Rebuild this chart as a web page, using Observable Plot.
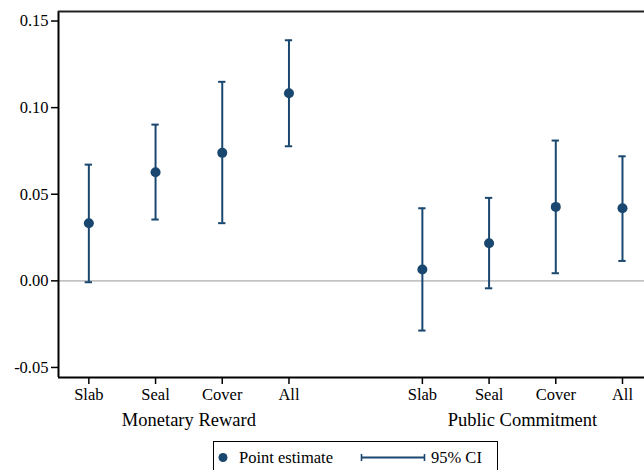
<!DOCTYPE html>
<html>
<head>
<meta charset="utf-8">
<script src="https://cdn.jsdelivr.net/npm/d3@7"></script>
<script src="https://cdn.jsdelivr.net/npm/@observablehq/plot@0.6"></script>
<style>
  html, body { margin: 0; padding: 0; background: #fff; overflow: hidden; }
  #wrap { position: relative; width: 644px; height: 470px; font-family: "Liberation Serif", "Times New Roman", serif; }
  #legend { position: absolute; left: 213px; top: 441px; width: 283px; height: 40px; border: 1px solid #000; background: #fff; }
  #legend svg { position: absolute; left: 0; top: 0; }
  .lt { position: absolute; font-size: 16.5px; color: #000; line-height: 1; white-space: nowrap; }
</style>
</head>
<body>
<div id="wrap">
  <div id="chart"></div>
  <div id="legend">
    <svg width="283" height="40">
      <circle cx="9" cy="15.5" r="4.5" fill="#1a476f"></circle>
      <line x1="147" x2="211" y1="15.5" y2="15.5" stroke="#1a476f" stroke-width="2"></line>
      <line x1="147.5" x2="147.5" y1="12" y2="19" stroke="#1a476f" stroke-width="1.6"></line>
      <line x1="210.5" x2="210.5" y1="12" y2="19" stroke="#1a476f" stroke-width="1.6"></line>
    </svg>
    <div class="lt" style="left:25px; top:8px;">Point estimate</div>
    <div class="lt" style="left:217px; top:8px;">95% CI</div>
  </div>
</div>
<script>
const categories = ["Slab", "Seal", "Cover", "All"];
const groups = ["Monetary Reward", "Public Commitment"];
const estimate = [0.0333, 0.0627, 0.0739, 0.1083, 0.0065, 0.0217, 0.0427, 0.0419];
const ciLow    = [-0.0008, 0.0354, 0.0333, 0.0777, -0.0287, -0.0043, 0.0044, 0.0115];
const ciHigh   = [0.0671, 0.0902, 0.1149, 0.1389, 0.0419, 0.0479, 0.0810, 0.0719];
const yTicks = [-0.05, 0, 0.05, 0.10, 0.15];

const navy = "#1a476f";
const data = estimate.map((v, k) => {
  const g = Math.floor(k / categories.length);
  const i = k % categories.length;
  return {group: groups[g], cat: categories[i], x: g * (categories.length + 1) + i + 1, est: v, lo: ciLow[k], hi: ciHigh[k]};
});
const xTicks = data.map(d => d.x);
const xLabel = new Map(data.map(d => [d.x, d.cat]));
const groupPos = groups.map((g, gi) => d3.mean(data.filter(d => d.group === g), d => d.x));
const groupLabel = new Map(groupPos.map((p, gi) => [p, groups[gi]]));

const xDomain = [0.545, 9.33];
const yDomain = [-0.0558, 0.1555];
const capHalf = 0.055;

const fmt = v => (v < 0 ? "-" : "") + Math.abs(v).toFixed(2);

const chart = Plot.plot({
  width: 644,
  height: 436,
  marginLeft: 58,
  marginRight: 0,
  marginTop: 11,
  marginBottom: 59,
  style: {fontFamily: "'Liberation Serif', 'Times New Roman', serif", fontSize: "16.5px", color: "#000", background: "#fff"},
  x: {domain: xDomain, axis: null, label: null},
  y: {domain: yDomain, axis: null, label: null},
  marks: [
    Plot.ruleY([0], {stroke: "#c4c4c4", strokeWidth: 1.8}),
    Plot.ruleX(data, {x: "x", y1: "lo", y2: "hi", stroke: navy, strokeWidth: 2}),
    Plot.ruleY(data, {y: "lo", x1: d => d.x - capHalf, x2: d => d.x + capHalf, stroke: navy, strokeWidth: 2}),
    Plot.ruleY(data, {y: "hi", x1: d => d.x - capHalf, x2: d => d.x + capHalf, stroke: navy, strokeWidth: 2}),
    Plot.dot(data, {x: "x", y: "est", r: 5, fill: navy, stroke: null}),
    Plot.axisY({ticks: yTicks, tickFormat: fmt, tickSize: 7, tickPadding: 3, strokeWidth: 1.5, fontSize: 16.5, label: null}),
    Plot.axisX({ticks: xTicks, tickFormat: d => xLabel.get(d), tickSize: 7, tickPadding: 4, strokeWidth: 1.5, fontSize: 16.5, label: null}),
    Plot.axisX({ticks: groupPos, tickFormat: d => groupLabel.get(d), tickSize: 0, tickPadding: 35, fontSize: 18.5, label: null}),
    Plot.ruleX([xDomain[0]], {stroke: "#000", strokeWidth: 2}),
    Plot.ruleY([yDomain[0]], {stroke: "#000", strokeWidth: 2}),
    Plot.ruleY([yDomain[1]], {stroke: "#222", strokeWidth: 2})
  ]
});
document.getElementById("chart").appendChild(chart);
</script>
</body>
</html>
